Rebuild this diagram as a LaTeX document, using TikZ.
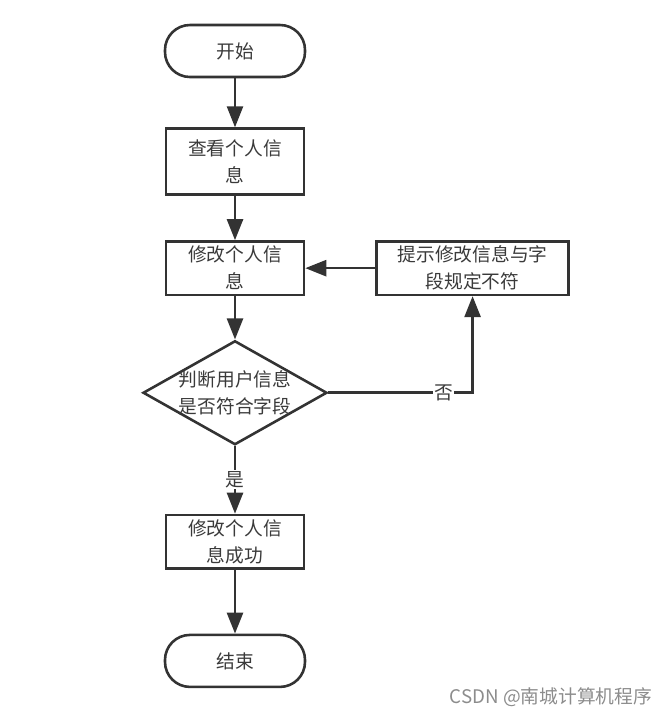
\documentclass[tikz,border=0pt]{standalone}
\usepackage{fontspec}
\newfontfamily\cjk{Noto Sans CJK SC}
\usetikzlibrary{arrows.meta, positioning, shapes.geometric}
\definecolor{flowLine}{HTML}{333333}
\definecolor{flowText}{HTML}{3A3A3A}
\newcommand{\flowfont}{\cjk\fontsize{16pt}{23pt}\selectfont}

\begin{document}
\begin{tikzpicture}[x=0.03cm, y=-0.03cm,
  term/.style={draw=flowLine, line width=2.2pt, rounded corners=0.75cm,
    minimum width=4.2cm, minimum height=1.56cm, font=\flowfont, text=flowText},
  box/.style={draw=flowLine, line width=2.2pt, minimum width=4.14cm,
    minimum height=1.6cm, inner sep=0pt, align=center, font=\flowfont, text=flowText},
  decision/.style={diamond, draw=flowLine, line width=2.2pt,
    minimum width=5.52cm, minimum height=3.12cm, inner sep=0pt},
  arr/.style={-{Triangle[length=6.3mm, width=4.8mm]}, line width=2.2pt, flowLine},
  tag/.style={fill=white, inner sep=1pt, font=\flowfont, text=flowText}
]
\useasboundingbox (0,0) rectangle (671,716);
\node[term] (start) at (235,51) {开始};
\node[box, minimum height=1.98cm, below=1.47cm of start] (view) {查看个人信\\息};
\node[box, below=1.33cm of view] (edit) {修改个人信\\息};
\node[box, minimum width=5.76cm, right=2.1cm of edit] (hint) {提示修改信息与字\\段规定不符};
\node[decision, below=1.3cm of edit,
  label={[align=center, font=\flowfont, text=flowText]center:{判断用户信息\\是否符合字段}}] (check) {};
\node[box, below=2.03cm of check] (done) {修改个人信\\息成功};
\node[term, below=1.92cm of done] (finish) {结束};
\draw[arr] (start) -- (view);
\draw[arr] (view) -- (edit);
\draw[arr] (edit) -- (check);
\draw[arr] (hint) -- (edit);
\draw[arr] (check.east) -| node[tag, pos=0.4] {否} (hint.south);
\draw[arr] (check.south) -- node[tag] {是} (done);
\draw[arr] (done) -- (finish);
\node[font=\cjk\fontsize{16pt}{16pt}\selectfont, text=black!45] (mark) at (551,697) {CSDN @南城计算机程序};
\end{tikzpicture}
\end{document}
